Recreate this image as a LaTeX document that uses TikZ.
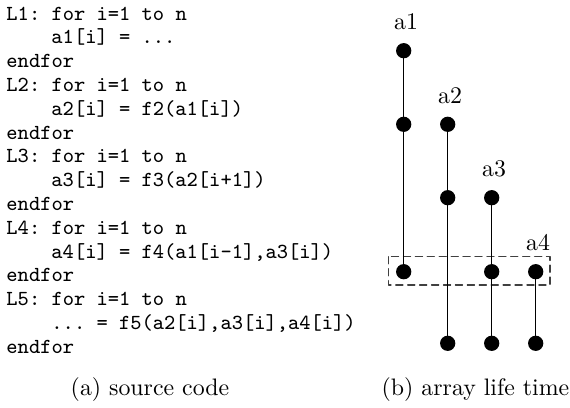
\documentclass[tikz,border=0pt]{standalone}
\usepackage{tikz}

\begin{document}
\begin{tikzpicture}[x=0.4193pt,y=-0.4193pt,line cap=round,line join=round,
  codeline/.style={anchor=base west,inner sep=0pt,font=\fontsize{9}{10}\selectfont\ttfamily\frenchspacing},
  lbl/.style={anchor=base,inner sep=0pt,font=\fontsize{10}{12}\selectfont},
  life/.style={line width=0.5pt}]
\useasboundingbox (0,0) rectangle (570,407);
% source code
\node[codeline] (c1) at (6,20) {L1: for i=1 to n};
\node[codeline] (c2) at (51,43.8) {a1[i] = ...};
\node[codeline] (c3) at (6,67.6) {endfor};
\node[codeline] (c4) at (6,91.4) {L2: for i=1 to n};
\node[codeline] (c5) at (51,115.2) {a2[i] = f2(a1[i])};
\node[codeline] (c6) at (6,139) {endfor};
\node[codeline] (c7) at (6,162.8) {L3: for i=1 to n};
\node[codeline] (c8) at (51,186.6) {a3[i] = f3(a2[i+1])};
\node[codeline] (c9) at (6,210.4) {endfor};
\node[codeline] (c10) at (6,234.2) {L4: for i=1 to n};
\node[codeline] (c11) at (51,258) {a4[i] = f4(a1[i-1],a3[i])};
\node[codeline] (c12) at (6,281.8) {endfor};
\node[codeline] (c13) at (6,305.6) {L5: for i=1 to n};
\node[codeline] (c14) at (51,329.4) {... = f5(a2[i],a3[i],a4[i])};
\node[codeline] (c15) at (6,353.2) {endfor};
\node[lbl] (capa) at (150,395) {(a) source code};
% array life time
\coordinate (a1s) at (403.7,50.7);
\coordinate (a1u) at (403.7,124.3);
\coordinate (a1e) at (403.7,271.7);
\coordinate (a2s) at (447.7,124.3);
\coordinate (a2u) at (447.7,197.7);
\coordinate (a2e) at (447.7,343.3);
\coordinate (a3s) at (491.7,197.7);
\coordinate (a3u) at (491.7,271.7);
\coordinate (a3e) at (491.7,343.3);
\coordinate (a4s) at (535.7,271.7);
\coordinate (a4e) at (535.7,343.3);
\draw[black!75,line width=0.5pt,dash pattern=on 3pt off 2pt] (388.3,256.7) rectangle (550,285);
\draw[life] (a1s) -- (a1e);
\draw[life] (a2s) -- (a2e);
\draw[life] (a3s) -- (a3e);
\draw[life] (a4s) -- (a4e);
\foreach \p in {a1s,a1u,a1e,a2s,a2u,a2e,a3s,a3u,a3e,a4s,a4e}
  \fill (\p) circle (3.2pt);
\node[lbl,xshift=1pt,yshift=8.8pt] (la1) at (a1s) {a1};
\node[lbl,xshift=1pt,yshift=8.8pt] (la2) at (a2s) {a2};
\node[lbl,xshift=1pt,yshift=8.8pt] (la3) at (a3s) {a3};
\node[lbl,xshift=1pt,yshift=8.8pt] (la4) at (a4s) {a4};
\node[lbl] (capb) at (475.5,395) {(b) array life time};
\end{tikzpicture}
\end{document}
